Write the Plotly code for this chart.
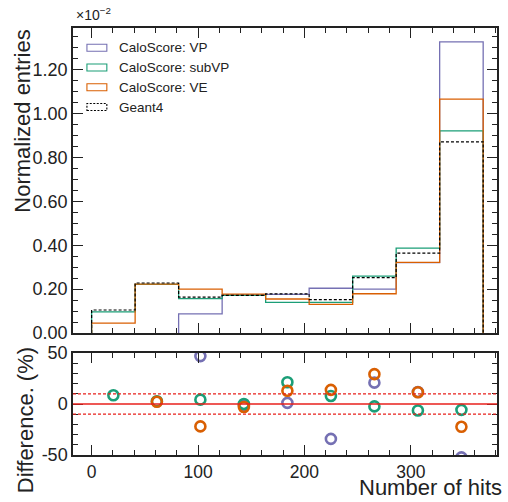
import numpy as np
import plotly.graph_objects as go

# Number of hits per shower (368 cells), normalized entries in units of 1e-2
bin_edges = np.linspace(0, 368, 10)
geant4 = [0.105, 0.228, 0.164, 0.172, 0.178, 0.152, 0.253, 0.364, 0.872]
calo_vp = [0.0, 0.0, 0.087, 0.174, 0.176, 0.204, 0.200, 0.321, 1.328]
calo_subvp = [0.096, 0.222, 0.157, 0.172, 0.140, 0.140, 0.259, 0.387, 0.922]
calo_ve = [0.045, 0.223, 0.200, 0.177, 0.155, 0.131, 0.179, 0.322, 1.067]

model_names = ["CaloScore: VP", "CaloScore: subVP", "CaloScore: VE"]
model_values = [calo_vp, calo_subvp, calo_ve]
model_colors = ["#7570b3", "#1b9e77", "#d95f02"]

W, H = 508, 502
ML, MR, MT, MB = 73, 9, 28, 47
PW, PH = W - ML - MR, H - MT - MB


def px_x(px):
    return (px - ML) / PW


def px_y(py):
    return (H - MB - py) / PH


FONT = "Liberation Sans, Arial, Helvetica, sans-serif"
INK = "#222222"


def step_xy(edges, vals):
    """Outline of a step histogram; empty leading bins sit on the axis and are skipped."""
    vals = list(vals)
    start = 0
    while start < len(vals) - 1 and vals[start] == 0:
        start += 1
    e = list(edges[start:])
    v = vals[start:]
    xs = [e[0]] + e[:-1] + [e[-1]]
    ys = [0.0] + v + [0.0]
    return xs, ys


fig = go.Figure()

# upper panel: step histograms
for name, vals, col in zip(model_names, model_values, model_colors):
    xs, ys = step_xy(bin_edges, vals)
    fig.add_trace(go.Scatter(x=xs, y=ys, mode="lines", line_shape="hv",
                             line=dict(color=col, width=1.3), name=name,
                             showlegend=False, xaxis="x", yaxis="y"))
xs, ys = step_xy(bin_edges, geant4)
fig.add_trace(go.Scatter(x=xs, y=ys, mode="lines", line_shape="hv",
                         line=dict(color="black", width=1.2, dash="3px,2px"),
                         name="Geant4", showlegend=False, xaxis="x", yaxis="y"))

# lower panel: relative difference to Geant4 in percent
centers = 0.5 * (bin_edges[:-1] + bin_edges[1:])
g4 = np.array(geant4)
for name, vals, col in zip(model_names, model_values, model_colors):
    diff = 100.0 * (g4 - np.array(vals)) / g4
    fig.add_trace(go.Scatter(x=centers, y=diff, mode="markers",
                             marker=dict(symbol="circle-open", size=10,
                                         color=col, line=dict(width=2.6, color=col)),
                             name=name, showlegend=False, xaxis="x2", yaxis="y2"))

axis_common = dict(
    showline=True, linecolor=INK, linewidth=1.5, mirror="allticks",
    ticks="inside", ticklen=10, tickwidth=1.3, tickcolor=INK,
    showgrid=False, zeroline=False,
    tickfont=dict(family=FONT, size=18, color=INK),
)

x_range = [-17.5, 381]
fig.update_layout(
    width=W, height=H,
    margin=dict(l=ML, r=MR, t=MT, b=MB),
    paper_bgcolor="white", plot_bgcolor="white",
    font=dict(family=FONT, color=INK),
    xaxis=dict(domain=[0, 1], anchor="y", range=x_range, tickvals=[0, 100, 200, 300],
               showticklabels=False,
               minor=dict(ticks="inside", dtick=20, ticklen=5, tickwidth=1, tickcolor=INK),
               **axis_common),
    xaxis2=dict(domain=[0, 1], anchor="y2", range=x_range, tickvals=[0, 100, 200, 300],
                showticklabels=True,
                minor=dict(ticks="inside", dtick=20, ticklen=5, tickwidth=1, tickcolor=INK),
                **axis_common),
    yaxis=dict(domain=[px_y(333), 1], anchor="x", range=[0, 1.391],
               tickvals=[0, 0.2, 0.4, 0.6, 0.8, 1.0, 1.2], tickformat=".2f",
               minor=dict(ticks="inside", dtick=0.05, ticklen=5, tickwidth=1, tickcolor=INK),
               **axis_common),
    yaxis2=dict(domain=[0, px_y(353)], anchor="x2", range=[-50, 50],
                tickvals=[-50, 0, 50], ticktext=["-50", "0", "50"],
                minor=dict(ticks="inside", dtick=10, ticklen=5, tickwidth=1, tickcolor=INK),
                **axis_common),
)
fig.update_xaxes(tickfont=dict(family=FONT, size=17.5, color=INK), selector=dict(anchor="y2"))

# reference lines in the difference panel
fig.add_shape(type="line", xref="x2 domain", yref="y2", x0=0, x1=1, y0=0, y1=0,
              line=dict(color="#e8211d", width=1.3))
for lvl in (10, -10):
    fig.add_shape(type="line", xref="x2 domain", yref="y2", x0=0, x1=1, y0=lvl, y1=lvl,
                  line=dict(color="#e8211d", width=1.2, dash="3px,2px"))

# legend
legend_rows = [47.7, 67.5, 87.3, 107.0]
legend_names = model_names + ["Geant4"]
legend_colors = model_colors + ["black"]
for row, name, col in zip(legend_rows, legend_names, legend_colors):
    fig.add_shape(type="rect", xref="paper", yref="paper",
                  x0=px_x(87), x1=px_x(107), y0=px_y(row + 3.5), y1=px_y(row - 3.5),
                  line=dict(color=col, width=1.1,
                            dash="2px,1.5px" if name == "Geant4" else "solid"),
                  fillcolor="rgba(0,0,0,0)")
    fig.add_annotation(text=name, xref="paper", yref="paper", x=px_x(117), y=px_y(row),
                       xanchor="left", yanchor="middle", showarrow=False,
                       font=dict(family=FONT, size=13.5, color=INK))

# axis titles and scale factor
fig.add_annotation(text="Normalized entries", xref="paper", yref="paper",
                   x=px_x(22), y=1.0, xanchor="center", yanchor="top", textangle=-90,
                   showarrow=False, font=dict(family=FONT, size=22, color=INK))
fig.add_annotation(text="Difference. (%)", xref="paper", yref="paper",
                   x=px_x(25), y=px_y(345), xanchor="center", yanchor="top", textangle=-90,
                   showarrow=False, font=dict(family=FONT, size=22, color=INK))
fig.add_annotation(text="Number of hits", xref="paper", yref="paper",
                   x=px_x(506), y=px_y(502), xanchor="right", yanchor="bottom",
                   showarrow=False, font=dict(family=FONT, size=22, color=INK))
fig.add_annotation(text="×10<sup>−2</sup>", xref="paper", yref="paper",
                   x=px_x(74), y=px_y(25), xanchor="left", yanchor="bottom",
                   showarrow=False, font=dict(family=FONT, size=14, color=INK))

fig.write_html("out.html")
